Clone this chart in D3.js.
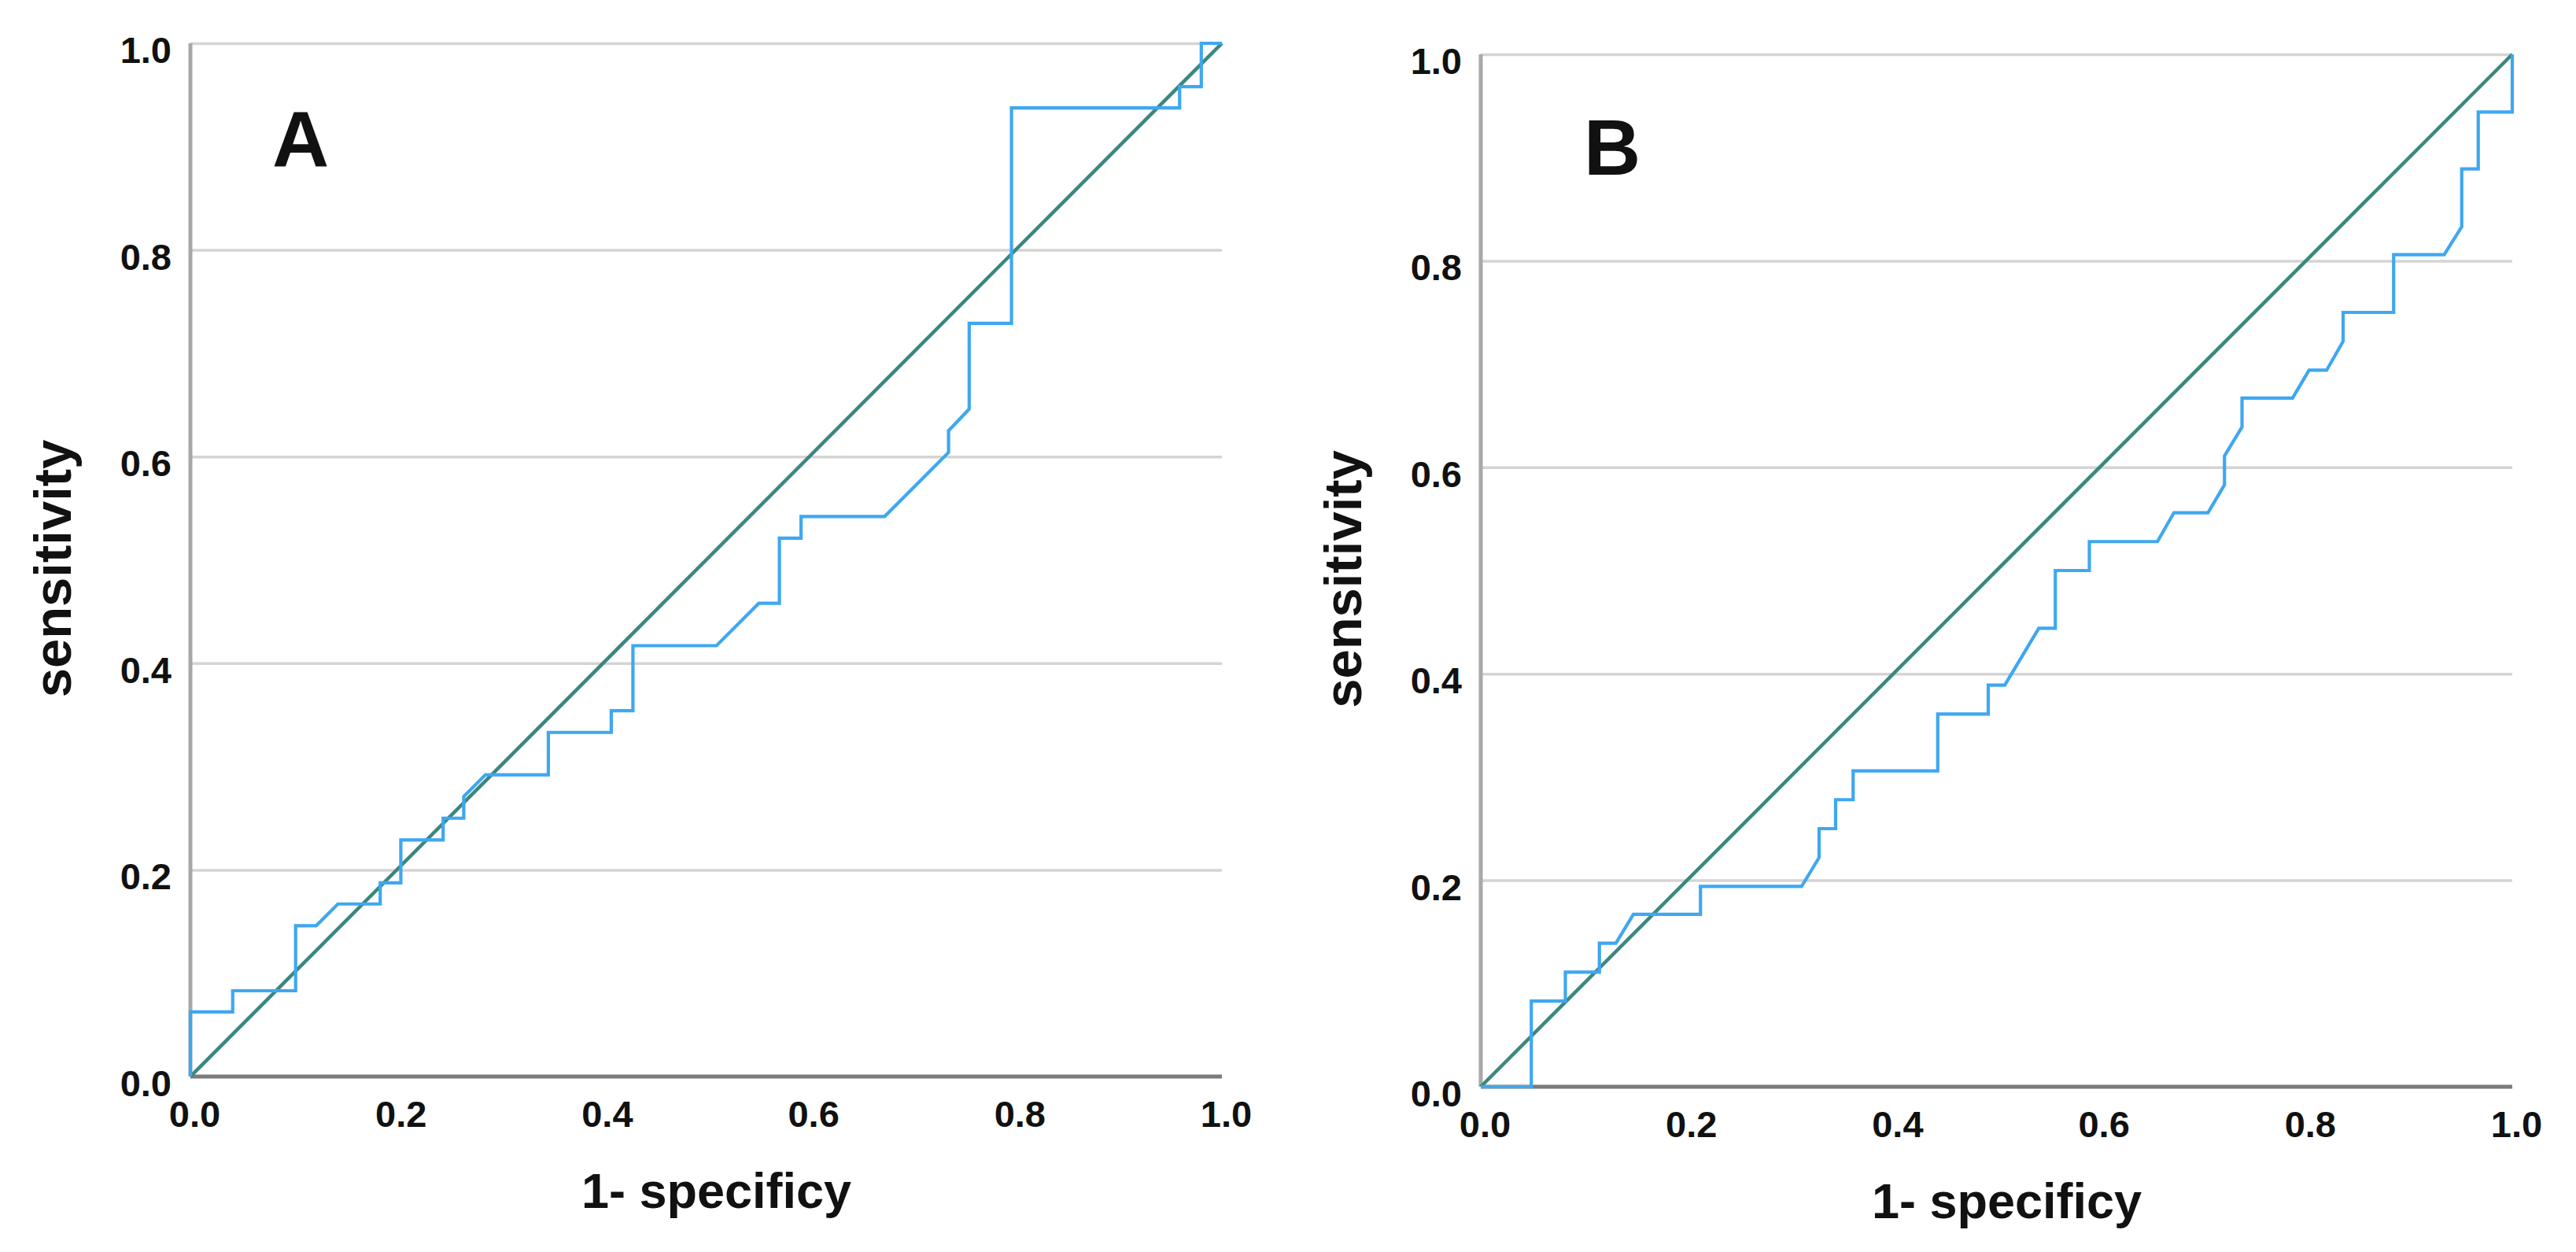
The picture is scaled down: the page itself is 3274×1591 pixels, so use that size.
<!DOCTYPE html>
<meta charset="utf-8">
<html>
<head>
<style>
  body { margin: 0; background: #fff; }
  text { font-family: "Liberation Sans", Arial, sans-serif; font-weight: bold; fill: #111; }
</style>
</head>
<body>
<script src="https://d3js.org/d3.v7.min.js"></script>
<script>
  // ROC curve A: 1-specificity / sensitivity
  var fprA  = [0, 0, 0.041, 0.041, 0.102, 0.102, 0.122, 0.143, 0.184, 0.184, 0.204, 0.204,
               0.245, 0.245, 0.265, 0.265, 0.286, 0.347, 0.347, 0.408, 0.408, 0.429, 0.429,
               0.510, 0.551, 0.571, 0.571, 0.592, 0.592, 0.673, 0.735, 0.735, 0.755, 0.755,
               0.796, 0.796, 0.959, 0.959, 0.980, 0.980, 1.0];
  var sensA = [0, 0.0625, 0.0625, 0.083, 0.083, 0.146, 0.146, 0.167, 0.167, 0.1875, 0.1875, 0.229,
               0.229, 0.250, 0.250, 0.271, 0.292, 0.292, 0.333, 0.333, 0.354, 0.354, 0.417,
               0.417, 0.458, 0.458, 0.521, 0.521, 0.542, 0.542, 0.604, 0.625, 0.646, 0.729,
               0.729, 0.9375, 0.9375, 0.958, 0.958, 1.0, 1.0];

  // ROC curve B
  var fprB  = [0, 0.049, 0.049, 0.082, 0.082, 0.115, 0.115, 0.131, 0.148, 0.213, 0.213,
               0.311, 0.328, 0.328, 0.344, 0.344, 0.361, 0.361, 0.443, 0.443, 0.492, 0.492,
               0.508, 0.541, 0.557, 0.557, 0.590, 0.590, 0.656, 0.672, 0.705, 0.721, 0.721,
               0.738, 0.738, 0.787, 0.803, 0.820, 0.836, 0.836, 0.885, 0.885, 0.934, 0.951,
               0.951, 0.967, 0.967, 1.0, 1.0];
  var sensB = [0, 0, 0.083, 0.083, 0.111, 0.111, 0.139, 0.139, 0.167, 0.167, 0.194,
               0.194, 0.222, 0.250, 0.250, 0.278, 0.278, 0.306, 0.306, 0.361, 0.361, 0.389,
               0.389, 0.444, 0.444, 0.500, 0.500, 0.528, 0.528, 0.556, 0.556, 0.583, 0.611,
               0.639, 0.667, 0.667, 0.694, 0.694, 0.722, 0.750, 0.750, 0.806, 0.806, 0.833,
               0.889, 0.889, 0.944, 0.944, 1.0];

  var ticks = [0, 0.2, 0.4, 0.6, 0.8, 1.0];
  var xTitle = "1- specificy";
  var yTitle = "sensitivity";

  var svg = d3.select("body").append("svg")
    .attr("width", 3274)
    .attr("height", 1591);

  function panel(left, top, w, h, letter, lx, ly, fpr, sens) {
    var x = d3.scaleLinear().domain([0, 1]).range([0, w]);
    var y = d3.scaleLinear().domain([0, 1]).range([h, 0]);
    var g = svg.append("g").attr("transform", "translate(" + left + "," + top + ")");

    // horizontal grid lines + y tick labels
    var ya = g.append("g")
      .call(d3.axisLeft(y).tickValues(ticks).tickSize(-w).tickPadding(24).tickFormat(d3.format(".1f")));
    ya.select(".domain").remove();
    ya.selectAll("line").attr("stroke", "#d4d4d4").attr("stroke-width", 3.5);
    ya.selectAll("text").attr("font-size", 47).attr("dy", "0.52em")
      .style("font-family", "'Liberation Sans', Arial, sans-serif").style("font-weight", "bold").attr("fill", "#111");

    // x tick labels
    var xa = g.append("g").attr("transform", "translate(0," + h + ")")
      .call(d3.axisBottom(x).tickValues(ticks).tickSize(0).tickPadding(31).tickFormat(d3.format(".1f")));
    xa.select(".domain").remove();
    xa.selectAll("text").attr("font-size", 47).attr("dx", 5)
      .style("font-family", "'Liberation Sans', Arial, sans-serif").style("font-weight", "bold").attr("fill", "#111");

    // axis lines
    g.append("line").attr("x1", 0).attr("x2", 0).attr("y1", 0).attr("y2", h)
      .attr("stroke", "#a8a8a8").attr("stroke-width", 5);
    g.append("line").attr("x1", 0).attr("x2", w).attr("y1", h).attr("y2", h)
      .attr("stroke", "#7b7b7b").attr("stroke-width", 5);

    // reference diagonal
    g.append("line").attr("x1", x(0)).attr("y1", y(0)).attr("x2", x(1)).attr("y2", y(1))
      .attr("stroke", "#3b877f").attr("stroke-width", 4.5);

    // ROC curve
    var pts = fpr.map(function(d, i) { return [d, sens[i]]; });
    g.append("path").datum(pts)
      .attr("fill", "none")
      .attr("stroke", "#3fa7f0")
      .attr("stroke-width", 4.2)
      .attr("d", d3.line().x(function(d) { return x(d[0]); }).y(function(d) { return y(d[1]); }));

    // titles
    g.append("text").attr("x", w / 2 + 13).attr("y", h + 167)
      .attr("text-anchor", "middle").attr("font-size", 63).text(xTitle);
    g.append("text").attr("transform", "translate(-152," + (h / 2 + 11) + ") rotate(-90)")
      .attr("text-anchor", "middle").attr("font-size", 67).text(yTitle);

    // panel letter
    g.append("text").attr("x", lx).attr("y", ly).attr("font-size", 100).text(letter);
  }

  panel(242, 55, 1311, 1313, "A", 104, 157, fprA, sensA);
  panel(1882, 69, 1311, 1312, "B", 131, 153, fprB, sensB);
</script>
</body>
</html>
